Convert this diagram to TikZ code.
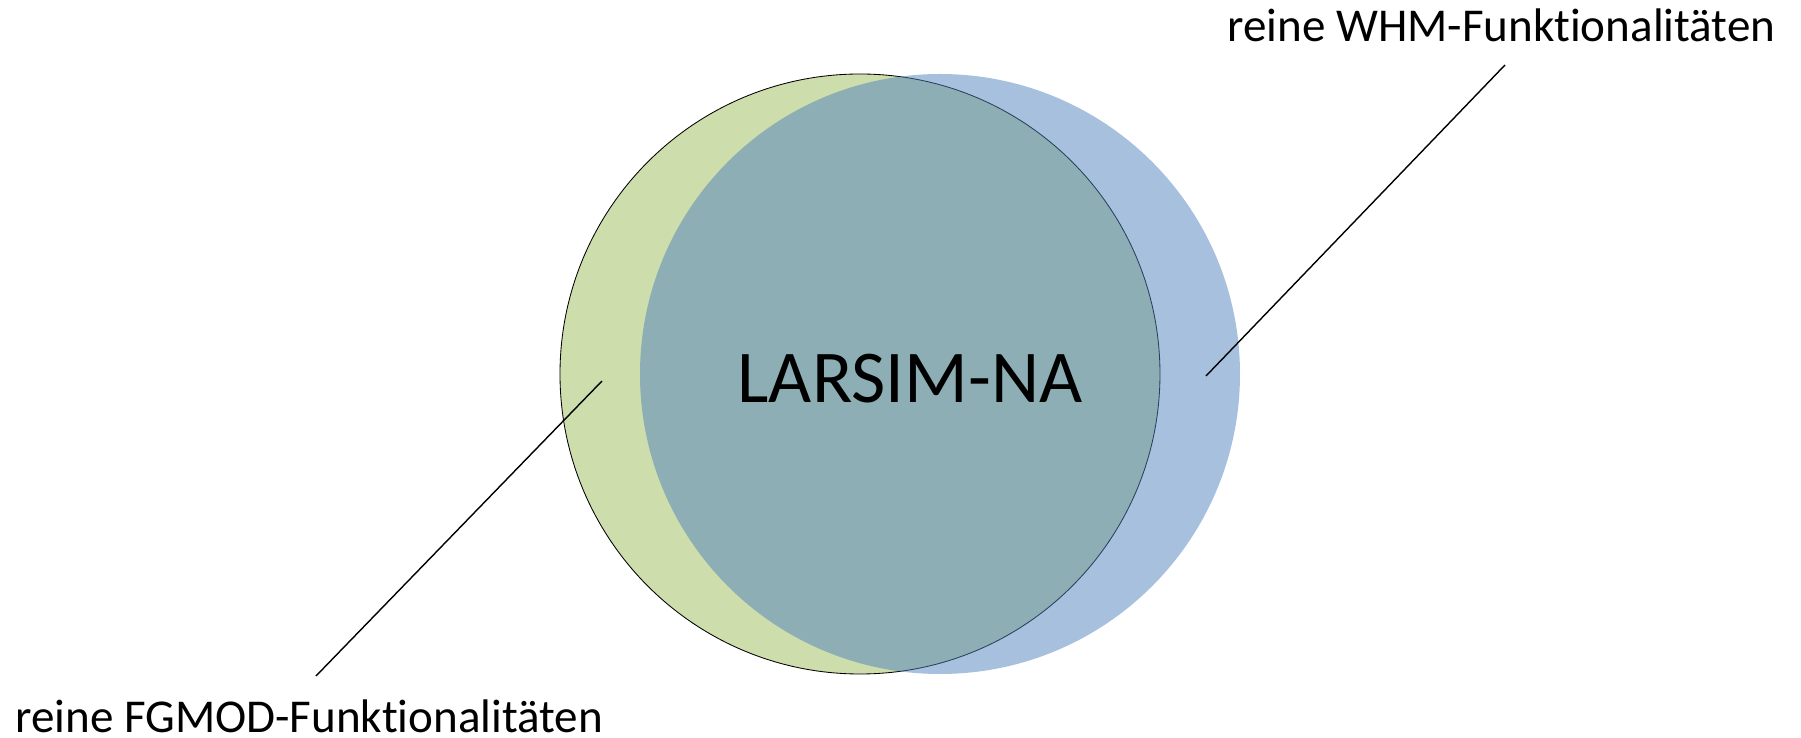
\documentclass[tikz,border=0pt]{standalone}
\usepackage{fontspec}
\setmainfont{Carlito}[Ligatures=NoCommon]
\definecolor{fgmodgreen}{HTML}{9BBB59}
\definecolor{whmblue}{HTML}{4F81BD}
\tikzset{
  label text/.style={inner sep=0pt, font=\fontsize{33.5}{40}\selectfont},
  pointer/.style={line width=1pt}
}
\begin{document}
\begin{tikzpicture}[scale=0.5]
    \useasboundingbox (-43.0,-18.2) rectangle (47.05,18.7);
    \fill[fgmodgreen, opacity=0.5] (0.0,0.0) circle (15.0);
    \draw[line width=0.6pt] (0.0,0.0) circle (15.0);
    \fill[whmblue, opacity=0.5] (4.0,0.0) circle (15.0);
    \node[inner sep=0pt, anchor=base, font=\fontsize{53}{60}\selectfont] (larsim) at (2.5,-1.435) {LARSIM-NA};
    \node[label text, anchor=base west] (whm) at (18.35,16.6) {reine WHM-Funktionalitäten};
    \node[label text, anchor=base west] (fgmod) at (-42.25,-17.9) {reine FGMOD-Funktionalitäten};
    \coordinate (whm start) at (32.25,15.45);
    \coordinate (whm end) at (17.3,-0.1);
    \coordinate (fgmod start) at (-27.2,-15.1);
    \coordinate (fgmod end) at (-12.9,-0.35);
    \draw[pointer] (whm start) -- (whm end);
    \draw[pointer] (fgmod start) -- (fgmod end);
  \end{tikzpicture}
\end{document}
